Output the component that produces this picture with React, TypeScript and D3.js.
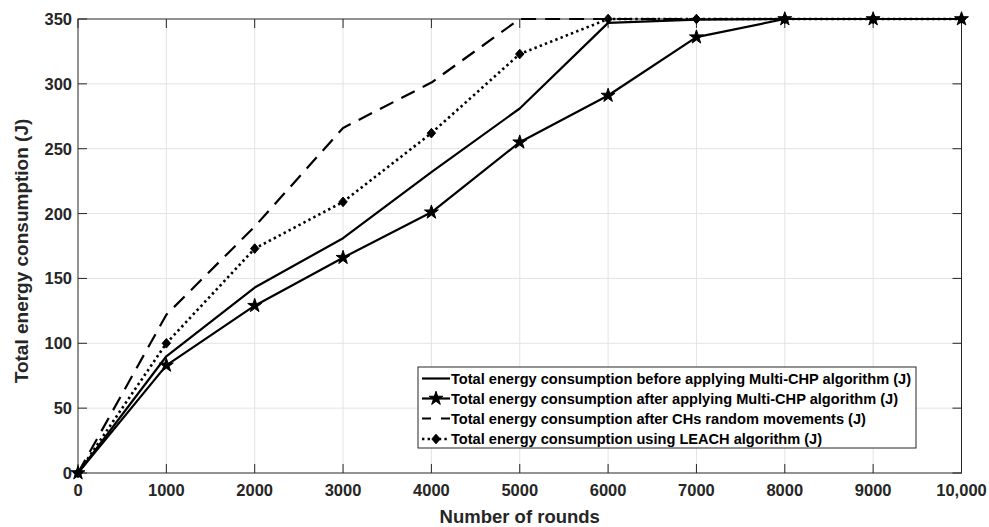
import React from "react";
import * as d3 from "d3";

const rounds = [0, 1000, 2000, 3000, 4000, 5000, 6000, 7000, 8000, 9000, 10000];
const beforeMulti = [0, 90, 143, 181, 232, 281, 347, 349.5, 350, 350, 350];
const afterMulti = [0, 83, 129, 166, 201, 255, 291, 336, 350, 350, 350];
const randomMoves = [0, 122, 190, 266, 301, 350, 350, 350, 350, 350, 350];
const leach = [0, 100, 173, 209, 262, 323, 350, 350, 350, 350, 350];

const xTicks = [0, 1000, 2000, 3000, 4000, 5000, 6000, 7000, 8000, 9000, 10000];
const xTickLabels = ["0", "1000", "2000", "3000", "4000", "5000", "6000", "7000", "8000", "9000", "10,000"];
const yTicks = [0, 50, 100, 150, 200, 250, 300, 350];

const legendLabels = [
  "Total energy consumption before applying Multi-CHP algorithm (J)",
  "Total energy consumption after applying Multi-CHP algorithm (J)",
  "Total energy consumption after CHs random movements (J)",
  "Total energy consumption using LEACH algorithm (J)",
];

const W = 989;
const H = 527;
const M = { left: 78, right: 27.5, top: 19, bottom: 54 };
const FONT = "'Liberation Sans', Arial, Helvetica, sans-serif";
const AX = "#262626";

type Series = {
  values: number[];
  dash: string | null;
  marker: "none" | "star" | "diamond";
  width: number;
};

const series: Series[] = [
  { values: beforeMulti, dash: null, marker: "none", width: 2.2 },
  { values: afterMulti, dash: null, marker: "star", width: 2.2 },
  { values: randomMoves, dash: "15,9", marker: "none", width: 2.2 },
  { values: leach, dash: "2.4,3.2", marker: "diamond", width: 2.6 },
];

const starPath = d3.symbol(d3.symbolStar, 60)() as string;
const diamondPath = "M0,-4.8L4.2,0L0,4.8L-4.2,0Z";

export default function App() {
  const x = d3.scaleLinear().domain([0, 10000]).range([M.left, W - M.right]);
  const y = d3.scaleLinear().domain([0, 350]).range([H - M.bottom, M.top]);
  const line = d3
    .line<number>()
    .x((_, i) => x(rounds[i]))
    .y((d) => y(d));

  const x0 = x(0), x1 = x(10000), y0 = y(0), y1 = y(350);
  const tickLen = 9;

  const legX = 418, legY = 367, legW = 498, legH = 81;
  const rowY = [378.5, 398.5, 418.5, 439];

  const marker = (m: string, cx: number, cy: number, key: string) => {
    if (m === "star") return <path key={key} d={starPath} transform={`translate(${cx},${cy})`} fill="#000" stroke="#000" strokeWidth={1} />;
    if (m === "diamond") return <path key={key} d={diamondPath} transform={`translate(${cx},${cy})`} fill="#000" stroke="#000" strokeWidth={1} />;
    return null;
  };

  return (
    <div style={{ position: "fixed", left: 0, top: 0 }}>
      <svg width={W} height={H} style={{ display: "block", background: "#fff" }}>
        {/* grid */}
        {xTicks.slice(1, -1).map((t) => (
          <line key={"gx" + t} x1={x(t)} x2={x(t)} y1={y0} y2={y1} stroke="#e3e3e3" strokeWidth={1} />
        ))}
        {yTicks.slice(1, -1).map((t) => (
          <line key={"gy" + t} x1={x0} x2={x1} y1={y(t)} y2={y(t)} stroke="#e3e3e3" strokeWidth={1} />
        ))}
        {/* box */}
        <rect x={x0} y={y1} width={x1 - x0} height={y0 - y1} fill="none" stroke={AX} strokeWidth={1} />
        {/* ticks */}
        {xTicks.map((t) => (
          <g key={"tx" + t}>
            <line x1={x(t)} x2={x(t)} y1={y0} y2={y0 - tickLen} stroke={AX} />
            <line x1={x(t)} x2={x(t)} y1={y1} y2={y1 + tickLen} stroke={AX} />
          </g>
        ))}
        {yTicks.map((t) => (
          <g key={"ty" + t}>
            <line x1={x0} x2={x0 + tickLen} y1={y(t)} y2={y(t)} stroke={AX} />
            <line x1={x1} x2={x1 - tickLen} y1={y(t)} y2={y(t)} stroke={AX} />
          </g>
        ))}
        {/* tick labels */}
        {xTicks.map((t, i) => (
          <text key={"lx" + t} x={x(t)} y={y0 + 23} textAnchor="middle" fontFamily={FONT} fontWeight="bold" fontSize={16.5} fill={AX}>
            {xTickLabels[i]}
          </text>
        ))}
        {yTicks.map((t) => (
          <text key={"ly" + t} x={x0 - 6} y={y(t) + 6} textAnchor="end" fontFamily={FONT} fontWeight="bold" fontSize={16.5} fill={AX}>
            {t}
          </text>
        ))}
        {/* axis labels */}
        <text x={(x0 + x1) / 2} y={523} textAnchor="middle" fontFamily={FONT} fontWeight="bold" fontSize={18.5} fill={AX}>
          Number of rounds
        </text>
        <text transform={`translate(28,${(y0 + y1) / 2 + 5}) rotate(-90)`} textAnchor="middle" fontFamily={FONT} fontWeight="bold" fontSize={19} fill={AX}>
          Total energy consumption (J)
        </text>
        {/* series */}
        {series.map((s, si) => (
          <g key={"s" + si}>
            <path d={line(s.values) as string} fill="none" stroke="#000" strokeWidth={s.width} strokeDasharray={s.dash ?? undefined} strokeLinejoin="round" />
            {s.values.map((v, i) => marker(s.marker, x(rounds[i]), y(v), "m" + si + "_" + i))}
          </g>
        ))}
        {/* legend */}
        <rect x={legX} y={legY} width={legW} height={legH} fill="#fff" stroke={AX} strokeWidth={1} />
        {series.map((s, i) => (
          <g key={"leg" + i}>
            <line x1={422} x2={450} y1={rowY[i]} y2={rowY[i]} stroke="#000" strokeWidth={s.width} strokeDasharray={s.dash === "15,9" ? "9,10" : s.dash ?? undefined} />
            {marker(s.marker, 436, rowY[i], "lm" + i)}
            <text x={451} y={rowY[i] + 5} fontFamily={FONT} fontWeight="bold" fontSize={14.6} fill="#000">
              {legendLabels[i]}
            </text>
          </g>
        ))}
      </svg>
    </div>
  );
}
